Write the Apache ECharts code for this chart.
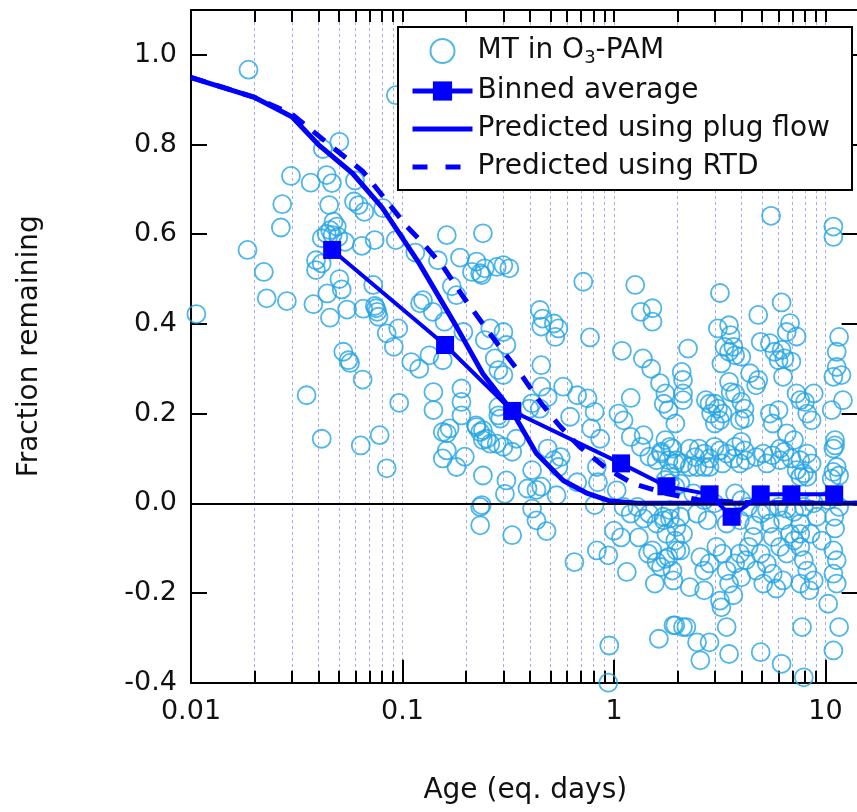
<!DOCTYPE html>
<html>
<head>
<meta charset="utf-8">
<script src="https://cdn.jsdelivr.net/npm/echarts@6/dist/echarts.min.js"></script>
<style>html,body{margin:0;padding:0;background:#fff;overflow:hidden}#c{width:880px;height:812px}</style>
</head>
<body>
<div id="c"></div>
<script>
// ---------- data ----------
const decadeTicks = [0.01, 0.1, 1, 10];
const decadeLabels = ['0.01', '0.1', '1', '10'];
const minorTicks = [0.02, 0.03, 0.04, 0.05, 0.06, 0.07, 0.08, 0.09,
                    0.2, 0.3, 0.4, 0.5, 0.6, 0.7, 0.8, 0.9,
                    2, 3, 4, 5, 6, 7, 8, 9];
const gridTicks = [0.02, 0.03, 0.04, 0.05, 0.06, 0.07, 0.08, 0.09, 0.1,
                   0.2, 0.3, 0.4, 0.5, 0.6, 0.7, 0.8, 0.9, 1,
                   2, 3, 4, 5, 6, 7, 8, 9, 10];

const binAge  = [0.0465, 0.159, 0.33, 1.08, 1.77, 2.83, 3.6, 4.94, 6.9, 11.0];
const binFrac = [0.565, 0.353, 0.206, 0.089, 0.038, 0.02, -0.03, 0.02, 0.02, 0.02];

const plugAge  = [0.01, 0.02, 0.03, 0.04, 0.058, 0.08, 0.12, 0.18, 0.24, 0.33, 0.43, 0.575, 0.75, 0.96, 1.3, 14.5];
const plugFrac = [0.949, 0.905, 0.862, 0.80, 0.736, 0.66, 0.535, 0.394, 0.289, 0.205, 0.111, 0.051, 0.022, 0.005, 0, 0];

const rtdAge  = [0.01, 0.02, 0.03, 0.045, 0.065, 0.081, 0.105, 0.125, 0.156, 0.194, 0.24, 0.288, 0.36, 0.446, 0.55, 0.688, 0.92, 1.23, 1.77, 2.5, 4, 14.5];
const rtdFrac = [0.95, 0.905, 0.868, 0.80, 0.74, 0.684, 0.617, 0.58, 0.527, 0.46, 0.40, 0.349, 0.29, 0.227, 0.174, 0.126, 0.078, 0.044, 0.022, 0.008, 0.002, 0];

// MT in O3-PAM measurements: [age (eq. days), fraction remaining]
const mtPoints = [
[0.0187,0.967],[0.0106,0.422],[0.0503,0.806],[0.042,0.79],[0.0297,0.73],[0.0368,0.715],[0.0438,0.732],[0.0464,0.714],
[0.0596,0.72],[0.027,0.667],[0.045,0.665],[0.059,0.673],[0.062,0.665],[0.066,0.65],[0.081,0.658],[0.0266,0.615],
[0.0472,0.628],[0.0489,0.617],[0.0455,0.609],[0.0438,0.601],[0.0467,0.598],[0.0497,0.594],[0.0415,0.591],[0.0535,0.583],
[0.0642,0.574],[0.0739,0.587],[0.093,0.587],[0.0185,0.565],[0.039,0.542],[0.0415,0.535],[0.039,0.52],[0.0221,0.516],
[0.0228,0.457],[0.0284,0.451],[0.0379,0.444],[0.0441,0.468],[0.0503,0.5],[0.0516,0.477],[0.0454,0.414],[0.0547,0.432],
[0.0652,0.434],[0.0727,0.487],[0.074,0.44],[0.076,0.427],[0.077,0.416],[0.075,0.435],[0.0842,0.379],[0.0955,0.39],
[0.091,0.349],[0.0525,0.338],[0.0555,0.319],[0.0565,0.313],[0.0648,0.276],[0.0352,0.241],[0.0965,0.224],[0.0415,0.144],
[0.0635,0.129],[0.078,0.152],[0.0842,0.078],[0.162,0.598],[0.24,0.602],[0.115,0.559],[0.147,0.542],[0.187,0.548],
[0.224,0.539],[0.213,0.516],[0.237,0.509],[0.125,0.453],[0.121,0.446],[0.139,0.427],[0.171,0.484],[0.18,0.464],
[0.158,0.405],[0.194,0.382],[0.11,0.315],[0.12,0.3],[0.134,0.33],[0.155,0.319],[0.14,0.248],[0.14,0.208],
[0.19,0.256],[0.19,0.226],[0.19,0.196],[0.155,0.159],[0.167,0.167],[0.162,0.156],[0.224,0.17],[0.24,0.163],
[0.24,0.141],[0.162,0.118],[0.155,0.1],[0.18,0.081],[0.197,0.104],[0.24,0.062],[0.237,-0.004],[0.233,-0.049],
[0.093,0.91],
[0.233,0.513],[0.245,0.524],[0.279,0.527],[0.32,0.524],[0.3,0.531],[0.716,0.494],[1.26,0.487],[0.446,0.431],
[0.46,0.412],[0.453,0.394],[0.52,0.401],[0.546,0.39],[0.528,0.371],[0.77,0.37],[1.34,0.427],[1.52,0.435],
[1.52,0.405],[1.09,0.34],[1.37,0.323],[2.09,0.293],[2.12,0.275],[0.26,0.39],[0.3,0.382],[0.245,0.364],
[0.31,0.353],[0.273,0.323],[0.284,0.297],[0.3,0.286],[0.453,0.308],[0.453,0.26],[0.486,0.237],[0.41,0.223],
[0.398,0.211],[0.446,0.211],[0.575,0.26],[0.67,0.241],[0.75,0.234],[0.81,0.204],[0.62,0.193],[0.78,0.167],
[0.86,0.144],[0.284,0.215],[0.284,0.196],[0.29,0.189],[0.223,0.174],[0.233,0.159],[0.25,0.144],[0.26,0.133],
[0.279,0.133],[0.3,0.126],[0.33,0.115],[0.345,0.144],[0.486,0.122],[0.52,0.096],[0.56,0.103],[0.546,0.081],
[0.31,0.051],[0.305,0.021],[0.41,0.074],[0.39,0.033],[0.43,0.03],[0.453,0.037],[0.535,0.018],[0.67,0.047],
[0.83,0.081],[0.84,0.047],[0.233,-0.008],[0.33,-0.071],[0.41,-0.012],[0.43,-0.038],[0.48,-0.062],[0.81,-0.004],
[0.65,-0.131],[0.83,-0.105],[0.94,-0.116],[1.15,-0.153],[0.95,-0.317],[0.94,-0.4],[1.56,-0.179],[1.63,-0.302],
[1.91,-0.272],[2.12,-0.276],[1.11,0.185],[1.2,0.148],[1.38,0.152],[1.34,0.126],[1.47,0.104],[1.59,0.096],
[1.67,0.115],[1.84,0.126],[1.97,0.096],[1.84,0.067],[2.12,0.089],[1.03,0.029],[1.11,-0.008],[1.2,-0.023],
[1.29,-0.008],[1.38,-0.034],[1.47,-0.023],[1.59,-0.045],[1.71,-0.03],[1.84,-0.034],[1.97,-0.053],[2.12,-0.068],
[1.0,-0.061],[1.08,-0.076],[1.31,-0.076],[1.45,-0.112],[1.52,-0.105],[1.59,-0.131],[1.67,-0.142],[1.81,-0.12],
[1.97,-0.105],[1.5,0.3],[1.65,0.268],[1.2,0.235],[1.05,0.2],[4.4,0.29],
[5.53,0.641],[10.9,0.617],[10.9,0.594],[3.17,0.469],[4.81,0.42],[6.2,0.448],[6.8,0.402],[7.3,0.372],
[6.56,0.382],[3.1,0.39],[3.5,0.397],[3.56,0.375],[3.33,0.349],[3.22,0.312],[3.5,0.338],[3.74,0.33],
[4.0,0.327],[3.67,0.349],[4.94,0.36],[5.46,0.357],[5.74,0.338],[6.2,0.342],[6.4,0.323],[6.0,0.319],
[6.9,0.316],[6.3,0.282],[2.24,0.345],[4.81,0.275],[4.7,0.263],[3.5,0.271],[3.56,0.248],[3.74,0.245],
[4.0,0.226],[4.14,0.211],[3.94,0.185],[4.14,0.189],[11.3,0.304],[11.9,0.286],[10.9,0.282],[12.1,0.23],
[10.7,0.208],[11.6,0.371],[11.3,0.338],[7.3,0.245],[7.6,0.23],[8.0,0.226],[8.8,0.245],[8.2,0.2],
[8.6,0.185],[5.46,0.2],[6.0,0.208],[5.63,0.178],[6.56,0.156],[7.1,0.141],[6.1,0.122],[2.72,0.23],
[2.83,0.222],[3.0,0.222],[3.1,0.211],[2.88,0.2],[3.17,0.185],[3.0,0.178],[3.26,0.2],[1.75,0.245],
[1.72,0.222],[1.81,0.208],[1.95,0.178],[2.12,0.245],[2.12,0.23],[1.75,0.141],[1.89,0.122],[1.81,0.096],
[1.95,0.089],[1.67,0.111],
[2.28,0.122],[2.52,0.122],[2.42,0.103],[2.67,0.111],[2.83,0.1],[2.99,0.126],[3.17,0.118],[3.41,0.111],
[3.74,0.126],[4.0,0.137],[4.14,0.118],[3.67,0.1],[3.94,0.089],[4.2,0.096],[3.26,0.089],[2.83,0.081],
[2.67,0.081],[2.47,0.081],[2.28,0.081],
[4.7,0.103],[5.08,0.111],[5.28,0.089],[5.6,0.107],[6.1,0.096],[6.4,0.115],[6.9,0.1],[7.6,0.096],
[8.2,0.111],[8.6,0.089],[7.3,0.074],[7.6,0.059],[8.2,0.059],[7.9,0.067],
[11.1,0.141],[11.1,0.129],[10.9,0.122],[11.3,0.081],[10.9,0.07],[11.6,0.062],[10.7,0.055],
[1.75,0.052],[1.95,0.037],[1.84,0.045],[2.06,0.044],
[2.37,0.022],[2.67,0.007],[2.99,0.0],[3.74,0.022],[4.0,0.007],[4.3,-0.008],[4.94,-0.023],[5.3,-0.015],
[6.0,-0.008],[6.56,-0.012],[7.1,-0.019],[7.9,-0.008],[8.8,0.0],[10.3,0.007],[11.6,-0.008],[11.0,-0.03],
[2.47,-0.023],[2.77,-0.038],[3.41,-0.045],[3.94,-0.038],[4.6,-0.049],[5.46,-0.045],[6.3,-0.038],[7.6,-0.045],
[9.1,-0.03],[11.1,-0.056],[2.06,-0.03],[1.84,-0.015],[1.72,-0.038],
[1.77,-0.068],[1.95,-0.083],[2.06,-0.105],[1.75,-0.124],[1.89,-0.15],[1.91,-0.172],[2.28,-0.187],[2.67,-0.194],
[3.17,-0.217],[3.22,-0.232],[3.5,-0.179],[3.67,-0.205],[3.94,-0.112],[4.2,-0.127],[4.33,-0.097],[4.94,-0.112],
[5.28,-0.134],[4.7,-0.15],[5.08,-0.179],[5.63,-0.157],[5.85,-0.19],[6.3,-0.172],[6.56,-0.112],[7.1,-0.083],
[7.6,-0.097],[7.9,-0.127],[8.2,-0.15],[7.6,-0.179],[8.8,-0.172],[8.4,-0.194],[10.3,-0.224],[10.9,-0.105],
[11.3,-0.127],[10.9,-0.157],[11.3,-0.179],[2.56,-0.12],[2.83,-0.134],[2.67,-0.15],[3.05,-0.097],[3.26,-0.112],
[3.41,-0.15],[3.74,-0.134],[4.0,-0.165],[4.55,-0.075],[5.63,-0.075],[6.1,-0.097],[6.8,-0.068],[7.6,-0.068],
[8.5,-0.068],[9.6,-0.083],
[1.95,-0.272],[2.2,-0.276],[2.47,-0.31],[2.83,-0.31],[2.56,-0.35],[3.41,-0.276],[3.5,-0.336],[4.94,-0.332],
[6.2,-0.358],[7.75,-0.276],[10.9,-0.328],[11.6,-0.276],[7.9,-0.388]
];

// ---------- chart ----------
const FONT = 'DejaVu Sans';
const TXT = '#111';
const BLUE = '#0000ff';
const CYAN = '#22a4e4';
const X_MIN = 0.01, X_MAX = 14.5, Y_MIN = -0.4, Y_MAX = 1.1;

function fmtX(v) {
  for (let i = 0; i < decadeTicks.length; i++) {
    if (Math.abs(Math.log10(v) - Math.log10(decadeTicks[i])) < 1e-6) return decadeLabels[i];
  }
  return '';
}
function fmtY(v) {
  if (Math.abs(v - Y_MAX) < 1e-6) return '';
  const r = Math.abs(v) < 1e-9 ? 0 : v;
  return r.toFixed(1);
}
const blackLine = {color: '#000', width: 2};
const logBase = {type: 'log', logBase: 10, min: X_MIN, max: X_MAX, gridIndex: 0};

const chart = echarts.init(document.getElementById('c'));
chart.setOption({
  animation: false,
  backgroundColor: '#fff',
  grid: {left: 191, top: 10, width: 668.6, height: 672.7, containLabel: false, outerBoundsMode: 'none'},
  legend: {
    orient: 'vertical',
    left: 398, top: 27,
    padding: [10, 22, 9, 12],
    itemWidth: 60, itemHeight: 24, itemGap: 10,
    borderColor: '#000', borderWidth: 2, backgroundColor: '#fff',
    data: [
      {name: 'MT in O3-PAM'},
      {name: 'Binned average', lineStyle: {width: 5}},
      {name: 'Predicted using plug flow', lineStyle: {width: 5}, itemStyle: {opacity: 0}},
      {name: 'Predicted using RTD', lineStyle: {width: 5, type: [15, 18]}, itemStyle: {opacity: 0}}
    ],
    formatter: function (name) {
      return name === 'MT in O3-PAM' ? '{t|MT in O}{s|3}{t|-PAM}' : name;
    },
    textStyle: {
      fontFamily: FONT, fontSize: 28, color: TXT,
      rich: {
        t: {fontFamily: FONT, fontSize: 28, color: TXT},
        s: {fontFamily: FONT, fontSize: 18, color: TXT, padding: [14, 0, 0, 0]}
      }
    }
  },
  xAxis: [
    Object.assign({}, logBase, {
      position: 'bottom',
      name: 'Age (eq. days)', nameLocation: 'middle', nameGap: 94,
      nameTextStyle: {fontFamily: FONT, fontSize: 28, color: TXT},
      axisLine: {show: true, onZero: false, lineStyle: blackLine},
      axisTick: {show: true, inside: true, length: 23, customValues: decadeTicks, lineStyle: blackLine},
      axisLabel: {show: true, customValues: decadeTicks, margin: 16, fontFamily: FONT, fontSize: 27, color: TXT, formatter: fmtX},
      splitLine: {show: false}, minorTick: {show: false}
    }),
    Object.assign({}, logBase, {
      position: 'bottom',
      axisLine: {show: false, onZero: false},
      axisTick: {show: true, inside: true, length: 12, customValues: minorTicks, lineStyle: blackLine},
      axisLabel: {show: false},
      splitLine: {show: false}
    }),
    Object.assign({}, logBase, {
      position: 'top',
      axisLine: {show: true, onZero: false, lineStyle: blackLine},
      axisTick: {show: true, inside: true, length: 12, customValues: gridTicks, lineStyle: blackLine},
      axisLabel: {show: false},
      splitLine: {show: true, lineStyle: {color: '#a9a9ee', width: 1, type: [3, 3]}}
    })
  ],
  yAxis: [
    {
      type: 'value', min: Y_MIN, max: Y_MAX, interval: 0.2, position: 'left',
      name: 'Fraction remaining', nameLocation: 'middle', nameGap: 147, nameRotate: 90,
      nameTextStyle: {fontFamily: FONT, fontSize: 28, color: TXT},
      axisLine: {show: true, onZero: false, lineStyle: blackLine},
      axisTick: {show: true, inside: true, length: 16, lineStyle: blackLine},
      axisLabel: {margin: 14, fontFamily: FONT, fontSize: 27, color: TXT, formatter: fmtY},
      splitLine: {show: false}
    },
    {
      type: 'value', min: Y_MIN, max: Y_MAX, interval: 0.2, position: 'right',
      axisLine: {show: false, onZero: false},
      axisTick: {show: true, inside: true, length: 18, lineStyle: blackLine},
      axisLabel: {show: false},
      splitLine: {show: false}
    }
  ],
  series: [
    {
      type: 'scatter', name: 'MT in O3-PAM', xAxisIndex: 0, yAxisIndex: 0,
      data: mtPoints, symbol: 'circle', symbolSize: 18,
      itemStyle: {color: 'rgba(0,0,0,0)', borderColor: CYAN, borderWidth: 1.8},
      z: 2,
      markLine: {
        silent: true, symbol: 'none', label: {show: false},
        lineStyle: {color: '#000', width: 2, type: 'solid'},
        data: [{yAxis: 0}]
      }
    },
    {
      type: 'line', name: 'Binned average', xAxisIndex: 0, yAxisIndex: 0,
      data: binAge.map((a, i) => [a, binFrac[i]]),
      symbol: 'rect', symbolSize: 18, showSymbol: true,
      color: BLUE, lineStyle: {color: BLUE, width: 4}, itemStyle: {color: BLUE},
      z: 5
    },
    {
      type: 'line', name: 'Predicted using plug flow', xAxisIndex: 0, yAxisIndex: 0,
      data: plugAge.map((a, i) => [a, plugFrac[i]]),
      symbol: 'none', color: BLUE, lineStyle: {color: BLUE, width: 5},
      z: 4
    },
    {
      type: 'line', name: 'Predicted using RTD', xAxisIndex: 0, yAxisIndex: 0,
      data: rtdAge.map((a, i) => [a, rtdFrac[i]]),
      symbol: 'none', color: BLUE, lineStyle: {color: BLUE, width: 5, type: [15, 12]},
      z: 4
    }
  ]
});
</script>
</body>
</html>
